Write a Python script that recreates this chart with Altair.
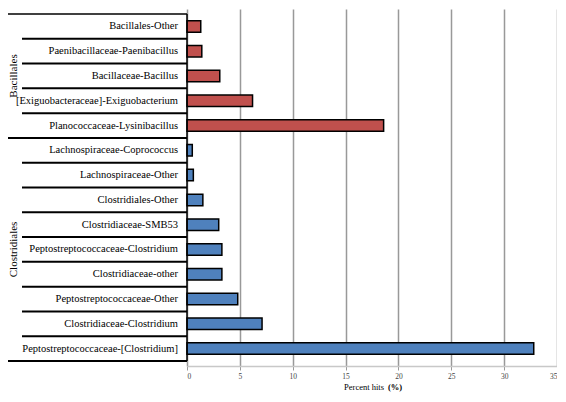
import altair as alt
import pandas as pd

categories = [
    "Bacillales-Other",
    "Paenibacillaceae-Paenibacillus",
    "Bacillaceae-Bacillus",
    "[Exiguobacteraceae]-Exiguobacterium",
    "Planococcaceae-Lysinibacillus",
    "Lachnospiraceae-Coprococcus",
    "Lachnospiraceae-Other",
    "Clostridiales-Other",
    "Clostridiaceae-SMB53",
    "Peptostreptococcaceae-Clostridium",
    "Clostridiaceae-other",
    "Peptostreptococcaceae-Other",
    "Clostridiaceae-Clostridium",
    "Peptostreptococcaceae-[Clostridium]",
]
values = [1.3, 1.4, 3.1, 6.2, 18.6, 0.5, 0.6, 1.5, 3.0, 3.3, 3.3, 4.8, 7.1, 32.8]
groups = ["Bacillales"] * 5 + ["Clostridiales"] * 9
group_names = ["Bacillales", "Clostridiales"]
group_colors = ["#C0504D", "#4F81BD"]
x_ticks = [0, 5, 10, 15, 20, 25, 30, 35]

FONT = "Liberation Serif"
N = len(categories)
W, H = 370, 357

df = pd.DataFrame({"cat": categories, "val": values, "grp": groups})
df["row"] = range(N)
df["mid"] = df["row"] + 0.5
df["zero"] = 0.0

sep_rows = [i for i in range(1, N) if groups[i] == groups[i - 1]]
seps = pd.DataFrame({"b": sep_rows})

bounds = [i for i in range(1, N) if groups[i] != groups[i - 1]] + [N]
gb = pd.DataFrame({"b": bounds})

gstart, gend = {}, {}
for i, g in enumerate(groups):
    gstart.setdefault(g, i)
    gend[g] = i + 1
gl = pd.DataFrame({"g": group_names,
                   "c": [(gstart[g] + gend[g]) / 2 for g in group_names]})

frame = pd.DataFrame({"top": [0], "bot": [N], "x0": [0]})
titles = pd.DataFrame({"t": ["Percent hits"], "u": ["(%)"]})

yscale = alt.Scale(domain=[0, N], reverse=True, nice=False, zero=False)
xscale = alt.Scale(domain=[0, 35], nice=False)

bars = alt.Chart(df).mark_bar(orient="horizontal", size=11.5, stroke="black", strokeWidth=1.5).encode(
    x=alt.X("val:Q", scale=xscale, stack=None,
            axis=alt.Axis(values=x_ticks, title=None, grid=True, gridColor="#999999",
                          gridWidth=1.5, domainColor="#c8c8c8", domainWidth=1.5,
                          tickColor="#999999", tickSize=4, labelFont=FONT, labelFontSize=7.5,
                          labelColor="#444444", labelPadding=2)),
    x2="zero:Q",
    y=alt.Y("mid:Q", scale=yscale, axis=None),
    fill=alt.Fill("grp:N", scale=alt.Scale(domain=group_names, range=group_colors), legend=None),
)

labels = alt.Chart(df).mark_text(align="right", baseline="middle", font=FONT, fontSize=10.5,
                                 color="black").encode(
    x=alt.value(-9),
    y=alt.Y("mid:Q", scale=yscale, axis=None),
    text="cat:N",
)

sep_rules = alt.Chart(seps).mark_rule(color="black", strokeWidth=2).encode(
    x=alt.value(-165), x2=alt.value(0), y=alt.Y("b:Q", scale=yscale, axis=None)
)
bound_rules = alt.Chart(gb).mark_rule(color="black", strokeWidth=2).encode(
    x=alt.value(-179), x2=alt.value(0), y=alt.Y("b:Q", scale=yscale, axis=None)
)
top_rule = alt.Chart(frame).mark_rule(color="black", strokeWidth=1.5).encode(
    x=alt.value(-179), x2=alt.value(0), y=alt.Y("top:Q", scale=yscale, axis=None)
)
vline = alt.Chart(frame).mark_rule(color="black", strokeWidth=1.5).encode(
    x=alt.X("x0:Q", scale=xscale), y=alt.Y("top:Q", scale=yscale, axis=None), y2="bot:Q"
)

glabels = alt.Chart(gl).mark_text(angle=270, align="center", baseline="middle", font=FONT,
                                   fontSize=11, color="black").encode(
    x=alt.value(-173), y=alt.Y("c:Q", scale=yscale, axis=None), text="g:N"
)

t1 = alt.Chart(titles).mark_text(align="right", baseline="middle", font=FONT, fontSize=8.5,
                                 color="black").encode(
    x=alt.value(197), y=alt.value(H + 21), text="t:N"
)
t2 = alt.Chart(titles).mark_text(align="left", baseline="middle", font=FONT, fontSize=8.5,
                                 fontWeight="bold", color="black").encode(
    x=alt.value(201), y=alt.value(H + 21), text="u:N"
)

chart = alt.layer(sep_rules, bound_rules, top_rule, bars, vline, labels, glabels, t1, t2).properties(
    width=W, height=H,
    padding={"left": 179, "top": 1, "right": 0, "bottom": 28},
    autosize=alt.AutoSizeParams(type="none"),
).configure_view(strokeWidth=0)

chart.save("out.html", embed_options={"renderer": "svg", "actions": False})
